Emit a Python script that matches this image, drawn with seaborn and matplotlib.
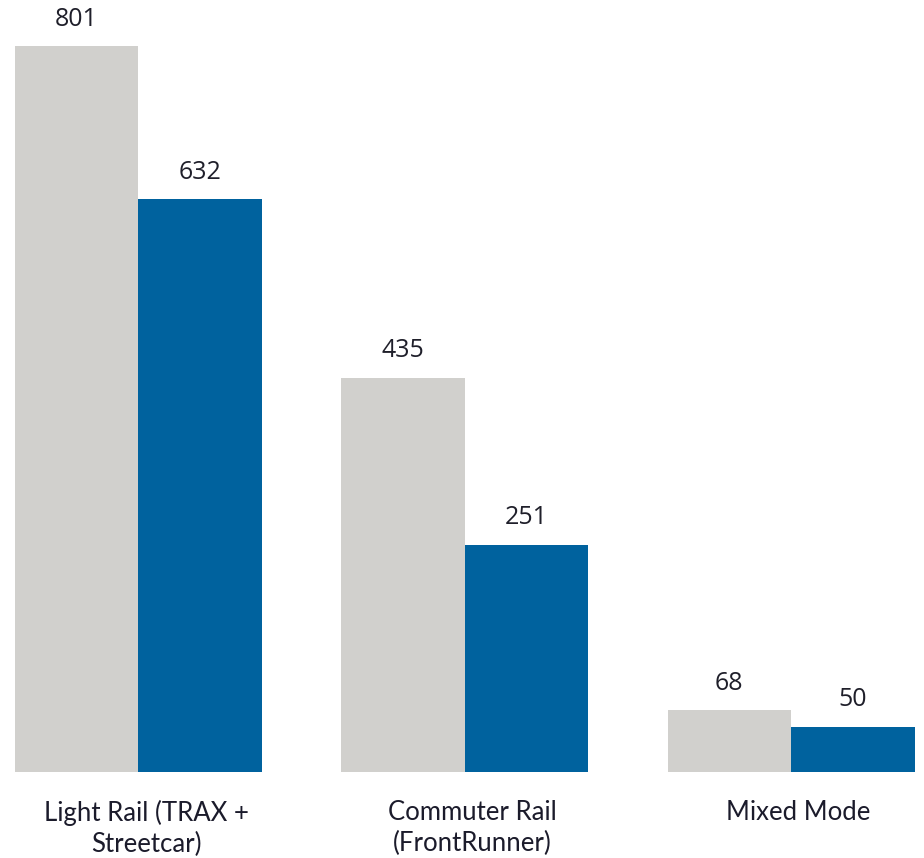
import matplotlib
matplotlib.use("Agg")
import matplotlib.pyplot as plt
import matplotlib.transforms as mtransforms
import seaborn as sns
import pandas as pd

categories = ["Light Rail (TRAX +\nStreetcar)", "Commuter Rail\n(FrontRunner)", "Mixed Mode"]
series_names = ["Series A", "Series B"]
values_a = [801, 435, 68]
values_b = [632, 251, 50]
colors = ["#D1D0CD", "#00629E"]

rows = []
for c, a, b in zip(categories, values_a, values_b):
    rows.append({"cat": c, "series": series_names[0], "value": a})
    rows.append({"cat": c, "series": series_names[1], "value": b})
df = pd.DataFrame(rows)

sns.set_theme(style="white")
plt.rcParams["font.family"] = ["Lato", "DejaVu Sans"]

fig = plt.figure(figsize=(9.24, 8.58), dpi=100)
ax = fig.add_axes([10 / 924, 1 - 772 / 858, 910 / 924, 772 / 858])

sns.barplot(data=df, x="cat", y="value", hue="series", palette=colors,
            width=0.757, saturation=1, ax=ax, legend=False, errorbar=None,
            linewidth=0, edgecolor="none")

ax.set_xlim(-0.3936, 2.395)
ax.set_ylim(0, 852)
for s in ax.spines.values():
    s.set_visible(False)
ax.set_yticks([])
ax.set_xlabel("")
ax.set_ylabel("")
ax.tick_params(axis="x", length=0, pad=20, labelsize=18.5, colors="#1b1b2b")
shift = mtransforms.ScaledTranslation(7.5 / 100, 0, fig.dpi_scale_trans)
for lbl in ax.get_xticklabels():
    lbl.set_linespacing(1.3)
    lbl.set_transform(lbl.get_transform() + shift)

for cont in ax.containers:
    for bar in cont:
        h = bar.get_height()
        ax.annotate(f"{h:.0f}", (bar.get_x() + bar.get_width() / 2, h),
                    xytext=(0, 10.5), textcoords="offset points",
                    ha="center", va="bottom", fontsize=18,
                    color="#1f1f2a", family=["Open Sans", "DejaVu Sans"])

fig.savefig("out.png", dpi=100)
